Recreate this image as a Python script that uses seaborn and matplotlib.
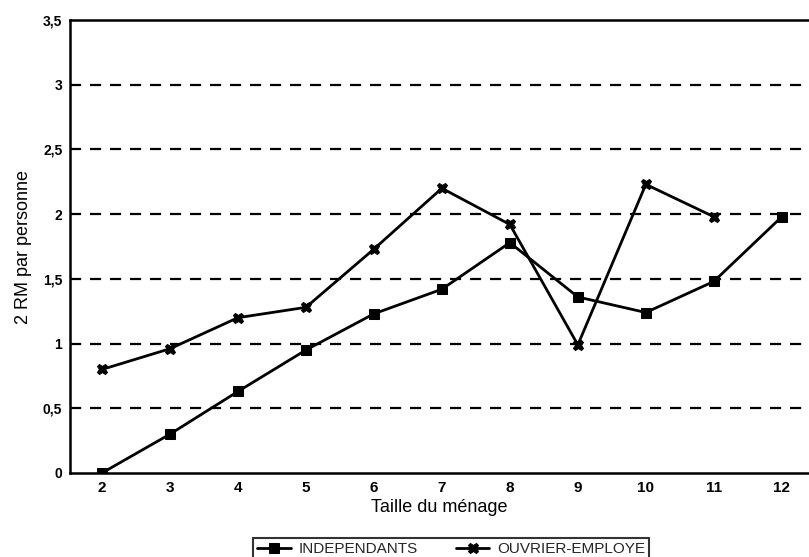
import matplotlib
matplotlib.use("Agg")
import matplotlib.pyplot as plt
import pandas as pd
import seaborn as sns

taille = [2, 3, 4, 5, 6, 7, 8, 9, 10, 11, 12]
independants = [0.0, 0.30, 0.63, 0.95, 1.23, 1.42, 1.78, 1.36, 1.24, 1.48, 1.98]
taille_ouv = [2, 3, 4, 5, 6, 7, 8, 9, 10, 11]
ouvrier = [0.80, 0.96, 1.20, 1.28, 1.73, 2.20, 1.92, 0.99, 2.23, 1.98]
yticks = [0, 0.5, 1, 1.5, 2, 2.5, 3, 3.5]
ytick_labels = ["0", "0,5", "1", "1,5", "2", "2,5", "3", "3,5"]

df = pd.concat([
    pd.DataFrame({"taille": taille, "val": independants, "groupe": "INDEPENDANTS"}),
    pd.DataFrame({"taille": taille_ouv, "val": ouvrier, "groupe": "OUVRIER-EMPLOYE"}),
], ignore_index=True)

sns.set_theme(style="white")
plt.rcParams["font.family"] = ["Liberation Sans", "DejaVu Sans"]

fig = plt.figure(figsize=(8.09, 5.57), dpi=100)
ax = fig.add_axes([70 / 809, 84 / 557, 739 / 809, 453 / 557])

sns.lineplot(data=df, x="taille", y="val", hue="groupe", style="groupe",
             markers={"INDEPENDANTS": "s", "OUVRIER-EMPLOYE": "X"},
             dashes=False, palette={"INDEPENDANTS": "black", "OUVRIER-EMPLOYE": "black"},
             lw=2, markersize=7.5, markeredgecolor="black", ax=ax, legend=True)

# dashed horizontal grid
for yv in yticks[1:-1]:
    ax.axhline(yv, color="black", lw=1.6, ls=(0, (5, 4)), zorder=0)

ax.set_xlim(1.53, 12.4)
ax.set_ylim(0, 3.5)
ax.set_xticks(taille)
ax.set_yticks(yticks)
ax.set_yticklabels(ytick_labels)
ax.tick_params(axis="both", direction="inout", length=7, width=1.2, colors="black",
               labelsize=10, pad=2)
ax.tick_params(axis="x", labelsize=11)
for lbl in ax.get_xticklabels() + ax.get_yticklabels():
    lbl.set_fontweight("bold")
for side in ["left", "bottom", "top"]:
    ax.spines[side].set_color("black")
    ax.spines[side].set_linewidth(1.8)
ax.spines["right"].set_visible(False)

ax.set_xlabel("Taille du ménage", fontsize=13, labelpad=3, color="black")
ax.set_ylabel("2 RM par personne", fontsize=13, labelpad=8, color="black")

handles, labels = ax.get_legend_handles_labels()
leg = fig.legend(handles, labels, loc="center", bbox_to_anchor=(451 / 809, 1 - 549 / 557),
                 ncol=2, frameon=True, fancybox=False, edgecolor="black", fontsize=11,
                 handlelength=2.2, columnspacing=2.5, borderpad=0.25, handletextpad=0.5)
leg.get_frame().set_linewidth(1.5)
if ax.get_legend():
    ax.get_legend().remove()

fig.savefig("out.png", dpi=100)
